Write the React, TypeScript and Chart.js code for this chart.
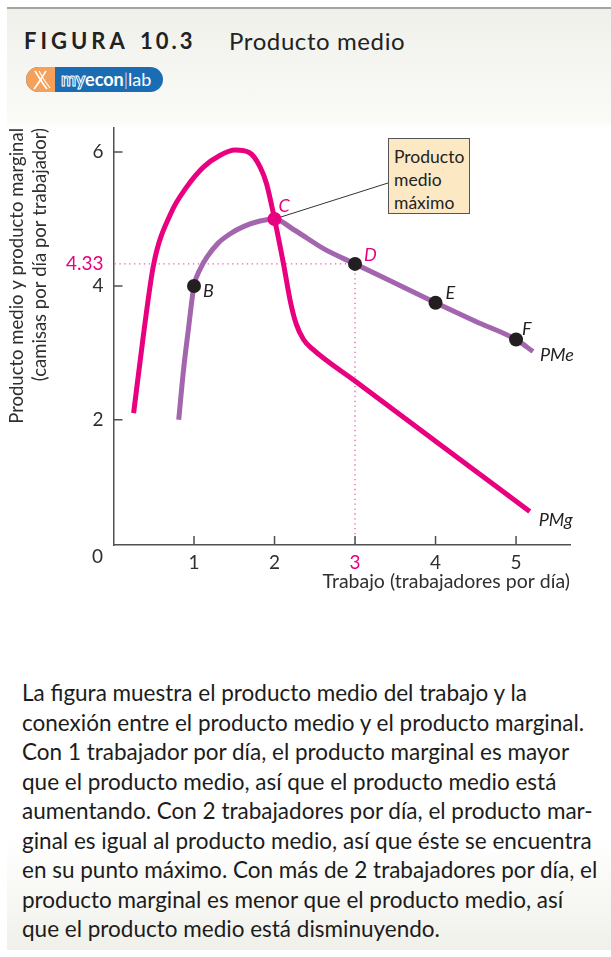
import React, { useEffect, useRef } from 'react';
import { Chart, registerables } from 'chart.js';

Chart.register(...registerables);

// ---- data ----
const PME_X = [0.81, 0.87, 0.93, 1.0, 1.08, 1.16, 1.3, 1.45, 1.62, 1.82, 2.0, 2.24, 2.62, 3.0, 3.5, 4.0, 4.5, 5.0, 5.21];
const PME_Y = [2.0, 2.75, 3.35, 4.0, 4.26, 4.43, 4.64, 4.78, 4.89, 4.97, 5.0, 4.84, 4.55, 4.33, 4.04, 3.75, 3.47, 3.2, 3.02];

const PMG_X = [0.25, 0.37, 0.5, 0.71, 0.91, 1.12, 1.32, 1.51, 1.69, 1.82, 1.9, 2.0, 2.11, 2.2, 2.27, 2.36, 2.47, 3.0, 4.0, 5.17];
const PMG_Y = [2.1, 3.25, 4.33, 5.08, 5.48, 5.78, 5.95, 6.03, 5.99, 5.78, 5.53, 5.0, 4.34, 3.75, 3.43, 3.2, 3.06, 2.58, 1.68, 0.63];

const POINT_X = [1, 2, 3, 4, 5];
const POINT_Y = [4, 5, 4.33, 3.75, 3.2];
const POINT_LABELS = ['B', 'C', 'D', 'E', 'F'];

const X_TICKS = [1, 2, 3, 4, 5];
const Y_TICKS = [2, 4, 4.33, 6];
const Y_TICK_MARKS = [2, 4, 6];
const HIGHLIGHT_X = 3;
const HIGHLIGHT_Y = 4.33;

const X_TITLE = 'Trabajo (trabajadores por día)';
const Y_TITLE = ['Producto medio y producto marginal', '(camisas por día por trabajador)'];
const CURVE_LABELS = ['PMe', 'PMg'];

const PARAGRAPH = [
  'La figura muestra el producto medio del trabajo y la',
  'conexión entre el producto medio y el producto marginal.',
  'Con 1 trabajador por día, el producto marginal es mayor',
  'que el producto medio, así que el producto medio está',
  'aumentando. Con 2 trabajadores por día, el producto mar-',
  'ginal es igual al producto medio, así que éste se encuentra',
  'en su punto máximo. Con más de 2 trabajadores por día, el',
  'producto marginal es menor que el producto medio, así',
  'que el producto medio está disminuyendo.',
];

// ---- styles ----
const FONT = 'Lato, "Open Sans", sans-serif';
const MAGENTA = '#e8007f';
const PURPLE = '#a265ae';
const INK = '#231f20';
const AXIS = '#505050';
const TEXT = '#2f2f2f';

const LABEL_OFFSETS: Record<string, [number, number]> = {
  B: [9, 5],
  C: [4, -13],
  D: [9, -9],
  E: [10, -10],
  F: [6, -10],
};

const overlay = {
  id: 'overlay',
  beforeDatasetsDraw(chart: any) {
    const { ctx, chartArea, scales } = chart;
    const x = scales.x;
    const y = scales.y;
    ctx.save();
    const gx = x.getPixelForValue(HIGHLIGHT_X);
    const gy = y.getPixelForValue(HIGHLIGHT_Y);
    ctx.strokeStyle = '#ef5aa8';
    ctx.lineWidth = 1.3;
    ctx.setLineDash([1.3, 3.6]);
    ctx.beginPath();
    ctx.moveTo(chartArea.left + 1, gy);
    ctx.lineTo(gx, gy);
    ctx.lineTo(gx, chartArea.bottom - 1);
    ctx.stroke();
    ctx.setLineDash([]);
    ctx.strokeStyle = AXIS;
    ctx.lineWidth = 1.5;
    ctx.beginPath();
    for (const v of X_TICKS) {
      const px = x.getPixelForValue(v);
      ctx.moveTo(px, chartArea.bottom);
      ctx.lineTo(px, chartArea.bottom - 9);
    }
    for (const v of Y_TICK_MARKS) {
      const py = y.getPixelForValue(v);
      ctx.moveTo(chartArea.left, py);
      ctx.lineTo(chartArea.left + 9, py);
    }
    ctx.stroke();
    const cx = x.getPixelForValue(POINT_X[1]);
    const cy = y.getPixelForValue(POINT_Y[1]);
    ctx.strokeStyle = '#333';
    ctx.lineWidth = 1;
    ctx.beginPath();
    ctx.moveTo(cx, cy);
    ctx.lineTo(388, 183);
    ctx.stroke();
    ctx.restore();
  },
  afterDatasetsDraw(chart: any) {
    const { ctx, chartArea, scales } = chart;
    const x = scales.x;
    const y = scales.y;
    ctx.save();
    ctx.font = `italic 18px ${FONT}`;
    ctx.textBaseline = 'middle';
    ctx.textAlign = 'left';
    POINT_LABELS.forEach((lab, i) => {
      const px = x.getPixelForValue(POINT_X[i]);
      const py = y.getPixelForValue(POINT_Y[i]);
      const [dx, dy] = LABEL_OFFSETS[lab];
      ctx.fillStyle = lab === 'C' || lab === 'D' ? MAGENTA : INK;
      ctx.fillText(lab, px + dx, py + dy);
    });
    ctx.fillStyle = INK;
    const pmeEnd = PME_X.length - 1;
    ctx.fillText(CURVE_LABELS[0], x.getPixelForValue(PME_X[pmeEnd]) + 7, y.getPixelForValue(PME_Y[pmeEnd]) + 4);
    const pmgEnd = PMG_X.length - 1;
    ctx.fillText(CURVE_LABELS[1], x.getPixelForValue(PMG_X[pmgEnd]) + 9, y.getPixelForValue(PMG_Y[pmgEnd]) + 9);
    ctx.font = `19px ${FONT}`;
    ctx.fillStyle = TEXT;
    ctx.textAlign = 'center';
    ctx.fillText('0', chartArea.left - 16, chartArea.bottom + 12);
    ctx.restore();
  },
};

export default function App() {
  const ref = useRef<HTMLCanvasElement>(null);

  useEffect(() => {
    const canvas = ref.current!;
    const chart = new Chart(canvas, {
      type: 'scatter',
      data: {
        datasets: [
          {
            label: 'PMe',
            data: PME_X.map((v, i) => ({ x: v, y: PME_Y[i] })),
            showLine: true,
            borderColor: PURPLE,
            borderWidth: 5,
            pointRadius: 0,
            cubicInterpolationMode: 'monotone',
            borderCapStyle: 'butt',
            order: 3,
          },
          {
            label: 'PMg',
            data: PMG_X.map((v, i) => ({ x: v, y: PMG_Y[i] })),
            showLine: true,
            borderColor: MAGENTA,
            borderWidth: 5,
            pointRadius: 0,
            cubicInterpolationMode: 'monotone',
            borderCapStyle: 'butt',
            order: 2,
          },
          {
            label: 'puntos',
            data: POINT_X.map((v, i) => ({ x: v, y: POINT_Y[i] })),
            showLine: false,
            pointRadius: 7,
            pointBorderWidth: 0,
            pointBackgroundColor: POINT_LABELS.map((l) => (l === 'C' ? MAGENTA : INK)),
            order: 1,
          },
        ],
      } as any,
      options: {
        responsive: false,
        animation: false,
        events: [],
        layout: { padding: { left: 0, top: 128, right: 41, bottom: 0 } },
        plugins: { legend: { display: false }, tooltip: { enabled: false } },
        scales: {
          x: {
            type: 'linear',
            min: 0,
            max: 5.67,
            afterFit: (s: any) => {
              s.height = 65;
            },
            afterBuildTicks: (s: any) => {
              s.ticks = X_TICKS.map((v) => ({ value: v }));
            },
            grid: { display: false, drawTicks: false },
            border: { display: true, color: AXIS, width: 1.5 },
            ticks: {
              padding: 6,
              autoSkip: false,
              maxRotation: 0,
              color: (c: any) => (c.tick && c.tick.value === HIGHLIGHT_X ? MAGENTA : TEXT),
              font: { family: FONT, size: 19 },
              callback: (v: any) => String(v),
            },
            title: {
              display: true,
              text: X_TITLE,
              align: 'end',
              color: TEXT,
              font: { family: FONT, size: 19.5, lineHeight: 1.2 },
              padding: { top: 0, bottom: 17 },
            },
          },
          y: {
            type: 'linear',
            min: 0.13,
            max: 6.36,
            afterFit: (s: any) => {
              s.width = 113.5;
            },
            afterBuildTicks: (s: any) => {
              s.ticks = Y_TICKS.map((v) => ({ value: v }));
            },
            grid: { display: false, drawTicks: false },
            border: { display: true, color: AXIS, width: 1.5 },
            ticks: {
              padding: 10,
              autoSkip: false,
              color: (c: any) => (c.tick && c.tick.value === HIGHLIGHT_Y ? MAGENTA : TEXT),
              font: { family: FONT, size: 19 },
              callback: (v: any) => String(v),
            },
            title: {
              display: true,
              text: Y_TITLE,
              align: 'end',
              color: TEXT,
              font: { family: FONT, size: 18.5, lineHeight: 1.25 },
              padding: { top: 5.5, bottom: 0 },
            },
          },
        },
      } as any,
      plugins: [overlay as any],
    });
    return () => chart.destroy();
  }, []);

  return (
    <div
      style={{
        position: 'absolute',
        left: 0,
        top: 0,
        width: 611,
        height: 957,
        background: '#ffffff',
        overflow: 'hidden',
        fontFamily: FONT,
      }}
    >
      <div
        style={{
          position: 'absolute',
          left: 7,
          top: 7,
          width: 604,
          height: 943,
          boxSizing: 'border-box',
          borderTop: '2px solid #a4a4a4',
          background:
            'linear-gradient(to bottom, #f0f0eb 0px, #fafaf7 112px, #ffffff 118px, #ffffff 830px, #f0f0ea 943px)',
        }}
      />
      <div
        style={{
          position: 'absolute',
          left: 24,
          top: 30,
          fontSize: 22,
          lineHeight: '22px',
          fontWeight: 700,
          letterSpacing: 4,
          color: '#222',
          whiteSpace: 'nowrap',
        }}
      >
        FIGURA
      </div>
      <div
        style={{
          position: 'absolute',
          left: 140,
          top: 30,
          fontSize: 22,
          lineHeight: '22px',
          fontWeight: 700,
          letterSpacing: 3,
          color: '#222',
          whiteSpace: 'nowrap',
        }}
      >
        10.3
      </div>
      <div
        style={{
          position: 'absolute',
          left: 229,
          top: 29,
          fontSize: 24,
          lineHeight: '24px',
          letterSpacing: 0.6,
          color: '#222',
          whiteSpace: 'nowrap',
        }}
      >
        Producto medio
      </div>
      <div
        style={{
          position: 'absolute',
          left: 26,
          top: 67,
          width: 137,
          height: 25,
          borderRadius: 12.5,
          overflow: 'hidden',
          background: '#1b6db3',
        }}
      >
        <div style={{ position: 'absolute', left: 0, top: 0, width: 29, height: 25, background: '#f5a15b' }} />
        <svg style={{ position: 'absolute', left: 0, top: 0 }} width={29} height={25}>
          <path d="M9 4 C13 10, 16 16, 21 22" stroke="#fff" strokeWidth={1.6} fill="none" />
          <path d="M20 4 C16 10, 13 16, 8 22" stroke="#fff" strokeWidth={1.6} fill="none" />
          <path d="M13 4 C16 10, 19 15, 24 21" stroke="#fff" strokeWidth={1.1} fill="none" />
        </svg>
        <div
          style={{
            position: 'absolute',
            left: 35,
            top: 1,
            fontSize: 18,
            lineHeight: '22px',
            color: '#fff',
            whiteSpace: 'nowrap',
          }}
        >
          <span style={{ color: '#1b6db3', WebkitTextStroke: '1px #ffffff', fontWeight: 700 }}>my</span>
          <span style={{ fontWeight: 700 }}>econ</span>
          <span style={{ fontWeight: 300 }}>|</span>
          <span>lab</span>
        </div>
      </div>
      <canvas
        ref={ref}
        width={611}
        height={610}
        style={{ position: 'absolute', left: 0, top: 0, width: 611, height: 610 }}
      />
      <div
        style={{
          position: 'absolute',
          left: 388,
          top: 138,
          width: 82,
          height: 76,
          boxSizing: 'border-box',
          background: '#fde8c4',
          border: '1px solid #555',
          paddingLeft: 5,
          paddingTop: 6,
          fontSize: 17.5,
          lineHeight: '23px',
          color: '#222',
          whiteSpace: 'nowrap',
        }}
      >
        <div>Producto</div>
        <div>medio</div>
        <div>máximo</div>
      </div>
      <div
        style={{
          position: 'absolute',
          left: 22,
          top: 678,
          fontSize: 22.5,
          lineHeight: '29.5px',
          color: '#1c1c1c',
        }}
      >
        {PARAGRAPH.map((line, i) => (
          <div key={i} style={{ whiteSpace: 'nowrap' }}>
            {line}
          </div>
        ))}
      </div>
    </div>
  );
}
